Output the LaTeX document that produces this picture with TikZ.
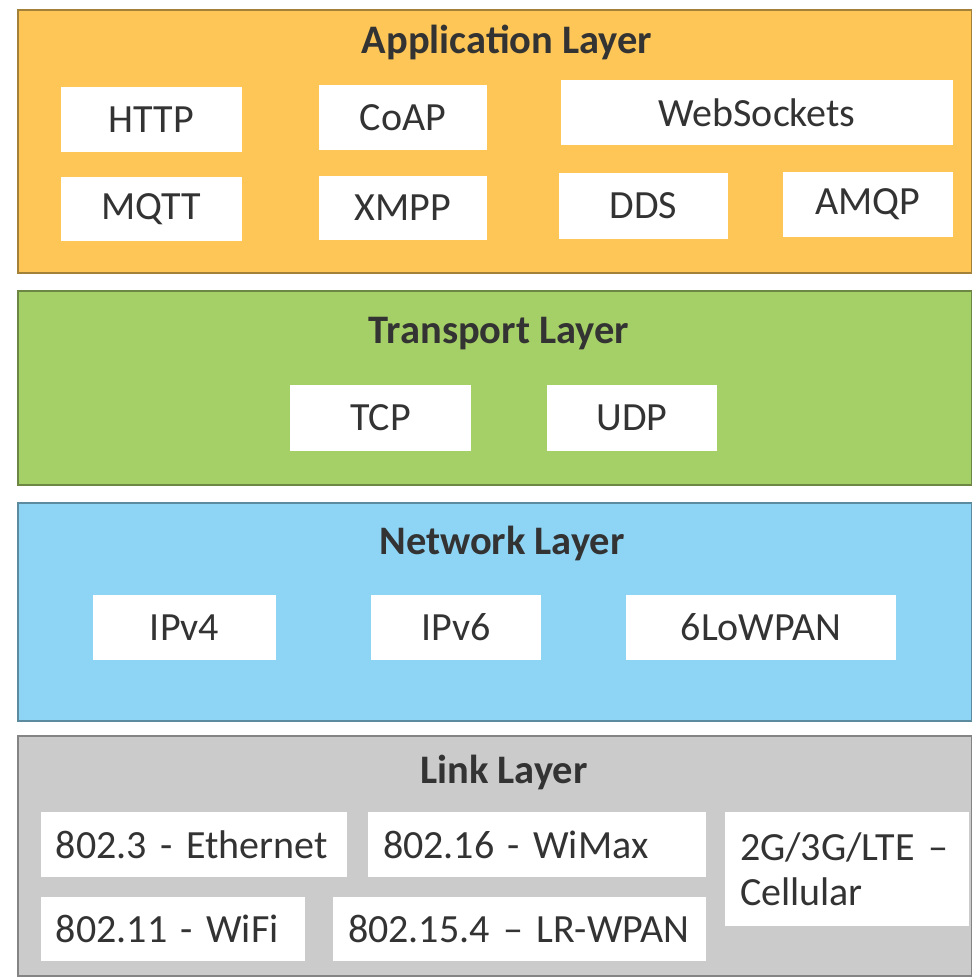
\documentclass[tikz,border=0pt]{standalone}
\usepackage{fontspec}
\setmainfont{Carlito}

\definecolor{appcol}{HTML}{FDC656}
\definecolor{transcol}{HTML}{A5CF67}
\definecolor{netcol}{HTML}{8ED5F5}
\definecolor{linkcol}{HTML}{CBCBCB}
\definecolor{txtcol}{HTML}{333333}

\begin{document}
\begin{tikzpicture}[
		x=1pt, y=-1pt,
		layer/.style={draw=#1!65!black, fill=#1, line width=1.5pt, inner sep=0pt, anchor=north west},
		title/.style={anchor=base, text=txtcol, font=\fontsize{40.5}{46}\selectfont\bfseries},
		proto/.style={fill=white, inner sep=0pt, text=txtcol, font=\fontsize{40}{45}\selectfont},
		linkproto/.style={proto, align=left, inner xsep=15pt, text width=#1},
		]
		
		\useasboundingbox (0,0) rectangle (972,978);
		
		% application layer
		\node[layer=appcol, minimum width=954pt, minimum height=263pt] (app) at (17,9) {};
		\node[title] (apptitle) at (507,53) {Application Layer};
		\node[proto, minimum width=181pt, minimum height=65pt] (http) at (151.5,119.5) {HTTP};
		\node[proto, minimum width=181pt, minimum height=64pt] (mqtt) at (151.5,209) {MQTT};
		\node[proto, minimum width=168pt, minimum height=65pt] (coap) at (403,117.5) {CoAP};
		\node[proto, minimum width=168pt, minimum height=64pt] (xmpp) at (403,208) {XMPP};
		\node[proto, minimum width=392pt, minimum height=65pt] (websock) at (757,112.5) {WebSockets};
		\node[proto, minimum width=169pt, minimum height=66pt] (dds) at (643.5,206) {DDS};
		\node[proto, minimum width=170pt, minimum height=65pt] (amqp) at (868,204.5) {AMQP};
		
		% transport layer
		\node[layer=transcol, minimum width=954pt, minimum height=194pt] (trans) at (17,290) {};
		\node[title] (transtitle) at (499,343) {Transport Layer};
		\node[proto, minimum width=181pt, minimum height=66pt] (tcp) at (380.5,418) {TCP};
		\node[proto, minimum width=170pt, minimum height=66pt] (udp) at (632,418) {UDP};
		
		% network layer
		\node[layer=netcol, minimum width=954pt, minimum height=218pt] (net) at (17,502) {};
		\node[title] (nettitle) at (502,554) {Network Layer};
		\node[proto, minimum width=183pt, minimum height=65pt] (ipv4) at (184.5,627.5) {IPv4};
		\node[proto, minimum width=170pt, minimum height=65pt] (ipv6) at (456,627.5) {IPv6};
		\node[proto, minimum width=270pt, minimum height=65pt] (lowpan) at (761,627.5) {6LoWPAN};
		
		% link layer
		\node[layer=linkcol, minimum width=954pt, minimum height=240pt] (link) at (17,735) {};
		\node[title] (linktitle) at (504,783) {Link Layer};
		\node[linkproto=276pt, minimum height=65pt] (eth) at (194,844.5) {802.3 - Ethernet};
		\node[linkproto=308pt, minimum height=65pt] (wimax) at (537,844.5) {802.16 - WiMax};
		\node[linkproto=234pt, minimum height=64pt] (wifi) at (173,929) {802.11 - WiFi};
		\node[linkproto=343pt, minimum height=64pt] (wpan) at (519.5,929) {802.15.4 -- LR-WPAN};
		\node[linkproto=214pt, minimum height=114pt] (cell) at (847,869) {2G/3G/LTE --\\Cellular};
		
	\end{tikzpicture}
\end{document}
